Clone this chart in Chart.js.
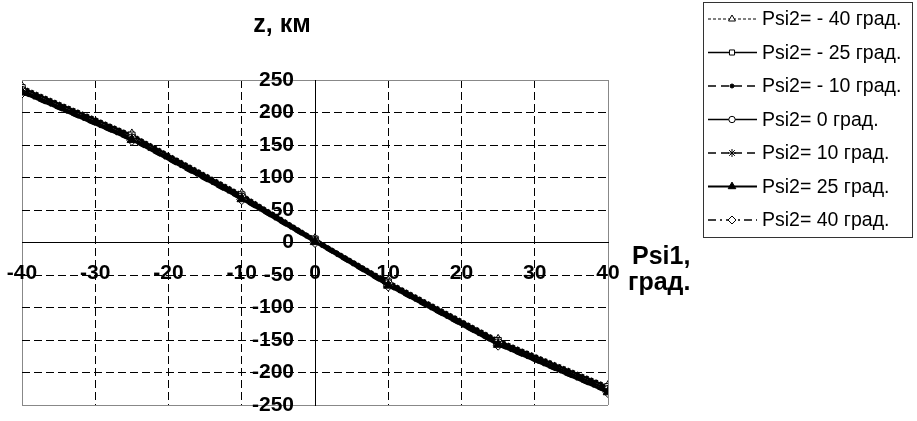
<!DOCTYPE html>
<html>
<head>
<meta charset="utf-8">
<script src="https://cdn.jsdelivr.net/npm/chart.js@4/dist/chart.umd.min.js"></script>
<style>
  html, body { margin: 0; padding: 0; background: #fff; }
  #wrap { width: 917px; height: 421px; }
</style>
</head>
<body>
<div id="wrap"><canvas id="zChart" width="917" height="421"></canvas></div>
<script>
// Psi1 values along x
const psi1 = [-40, -25, -10, 0, 10, 25, 40];

const seriesNames = [
    'Psi2= - 40 град.', 'Psi2= - 25 град.', 'Psi2= - 10 град.', 'Psi2= 0 град.',
    'Psi2= 10 град.', 'Psi2= 25 град.', 'Psi2= 40 град.'
];

// z, km for each Psi2
const zPsi2m40 = [240, 167, 75, 6, -59, -149, -220];
const zPsi2m25 = [238, 165, 73, 5, -61, -151, -222];
const zPsi2m10 = [236, 163, 72, 4, -62, -153, -224];
const zPsi2p0  = [234, 161, 70, 3, -63, -154, -226];
const zPsi2p10 = [233, 160, 69, 2, -65, -156, -228];
const zPsi2p25 = [231, 158, 67, 1, -66, -157, -230];
const zPsi2p40 = [230, 157, 66, 0, -67, -158, -231];

const xTickValues = [-40, -30, -20, -10, 0, 10, 20, 30, 40];
const yTickValues = [-250, -200, -150, -100, -50, 0, 50, 100, 150, 200, 250];

const allSeries = [zPsi2m40, zPsi2m25, zPsi2m10, zPsi2p0, zPsi2p10, zPsi2p25, zPsi2p40];

// line / marker look of each series
const looks = [
    { dash: [3, 2], width: 2, point: 'triangle', radius: 5, fill: '#fff' },
    { dash: [], width: 2.5, point: 'rect', radius: 4.5, fill: '#fff' },
    { dash: [8, 5], width: 2.5, point: 'circle', radius: 2.5, fill: '#000' },
    { dash: [], width: 2.5, point: 'circle', radius: 4, fill: '#fff' },
    { dash: [8, 5], width: 2.5, point: 'star', radius: 5, fill: '#000' },
    { dash: [], width: 3, point: 'triangle', radius: 5.5, fill: '#000' },
    { dash: [8, 4, 2, 4], width: 2.5, point: 'rectRot', radius: 5, fill: '#fff' }
];

const datasets = allSeries.map((vals, i) => ({
    label: seriesNames[i],
    data: psi1.map((x, j) => ({ x: x, y: vals[j] })),
    // later series on top, the filled triangles topmost
    order: i === 5 ? -1 : allSeries.length - 1 - i,
    showLine: true,
    borderColor: '#000',
    borderWidth: looks[i].width,
    borderDash: looks[i].dash,
    pointStyle: looks[i].point,
    pointRadius: looks[i].radius,
    pointBackgroundColor: looks[i].fill,
    pointBorderColor: '#000',
    pointBorderWidth: 1,
    tension: 0
}));

const edgeColor = (ctx, edges) => edges.includes(ctx.tick && ctx.tick.value) ? '#888' : '#000';
const gridDash = (ctx, edges) => {
    const v = ctx.tick && ctx.tick.value;
    return (edges.includes(v) || v === 0) ? [] : [8, 4];
};
// keep the centred axes from pushing the plot area around
const noPad = s => { s.paddingLeft = 0; s.paddingRight = 0; s.paddingTop = 0; s.paddingBottom = 0; };

// axis titles and the boxed legend
const extras = {
    id: 'extras',
    afterDraw(chart) {
        const ctx = chart.ctx;
        const area = chart.chartArea;
        ctx.save();
        ctx.fillStyle = '#000';
        ctx.font = 'bold 25px Arial, "Liberation Sans"';
        ctx.textAlign = 'center';
        ctx.textBaseline = 'middle';
        ctx.fillText('z, км', 282, 25);
        ctx.textAlign = 'left';
        ctx.fillText('Psi1,', area.right + 24, 257);
        ctx.fillText('град.', area.right + 20, 283);

        // legend box
        const lx = 703, ly = 2, lw = 209, lh = 235;
        ctx.strokeStyle = '#333';
        ctx.lineWidth = 1;
        ctx.strokeRect(lx + 0.5, ly + 0.5, lw, lh);
        ctx.font = '19.5px Arial, "Liberation Sans"';
        ctx.textBaseline = 'middle';
        chart.data.datasets.forEach((ds, i) => {
            const y = 19 + i * 33.5;
            ctx.save();
            ctx.strokeStyle = '#000';
            ctx.lineWidth = i === 0 ? 1 : (i === 5 ? 2 : 1.5);
            ctx.setLineDash(ds.borderDash);
            ctx.beginPath();
            ctx.moveTo(708, y);
            ctx.lineTo(757, y);
            ctx.stroke();
            ctx.restore();
            ctx.save();
            ctx.fillStyle = ds.pointBackgroundColor;
            ctx.strokeStyle = '#000';
            ctx.lineWidth = 1;
            Chart.helpers.drawPoint(ctx, {
                pointStyle: ds.pointStyle,
                radius: ds.pointRadius * 0.8,
                rotation: 0,
                borderWidth: 1
            }, 732, y);
            ctx.restore();
            ctx.fillStyle = '#000';
            ctx.fillText(ds.label, 762, y + 1);
        });
        ctx.restore();
    }
};

new Chart(document.getElementById('zChart').getContext('2d'), {
    type: 'scatter',
    data: { datasets: datasets },
    plugins: [extras],
    options: {
        responsive: false,
        animation: false,
        devicePixelRatio: 1,
        layout: { padding: { left: 22, right: 309, top: 80, bottom: 16 } },
        plugins: {
            legend: { display: false },
            tooltip: { enabled: false }
        },
        scales: {
            x: {
                type: 'linear',
                min: -40,
                max: 40,
                position: { y: 0 },
                afterBuildTicks: s => { s.ticks = xTickValues.map(v => ({ value: v })); },
                afterFit: noPad,
                grid: {
                    color: ctx => edgeColor(ctx, [-40, 40]),
                    lineWidth: 1,
                    drawTicks: false
                },
                border: { display: true, color: '#000', width: 1, dash: ctx => gridDash(ctx, [-40, 40]) },
                ticks: {
                    color: '#000',
                    padding: 18,
                    autoSkip: false,
                    maxRotation: 0,
                    font: { family: 'Arial, "Liberation Sans"', size: 21, weight: 'bold' }
                }
            },
            y: {
                type: 'linear',
                min: -250,
                max: 250,
                position: { x: 0 },
                afterBuildTicks: s => { s.ticks = yTickValues.map(v => ({ value: v })); },
                afterFit: noPad,
                grid: {
                    color: ctx => edgeColor(ctx, [-250, 250]),
                    lineWidth: 1,
                    drawTicks: false
                },
                border: { display: true, color: '#000', width: 1, dash: ctx => gridDash(ctx, [-250, 250]) },
                ticks: {
                    color: '#000',
                    autoSkip: false,
                    callback: v => v + '\u2002\u2002',
                    font: { family: 'Arial, "Liberation Sans"', size: 21, weight: 'bold' }
                }
            }
        }
    }
});
</script>
</body>
</html>
